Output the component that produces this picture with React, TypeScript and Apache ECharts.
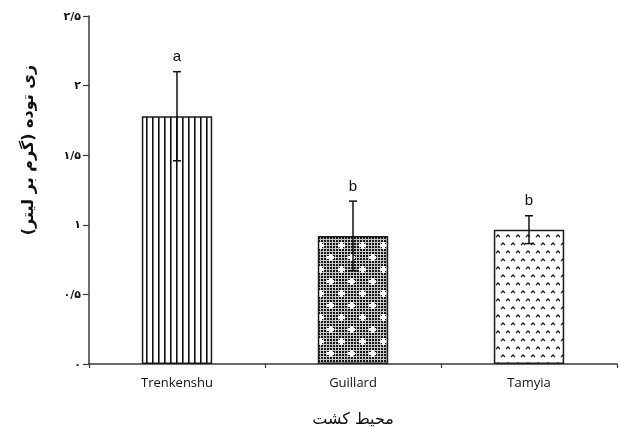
import React, { useEffect, useRef } from "react";
import * as echarts from "echarts";

const categories = ["Trenkenshu", "Guillard", "Tamyia"];
const means = [1.78, 0.92, 0.965];
const errors = [0.32, 0.25, 0.1];
const letters = ["a", "b", "b"];
const yTickLabels = ["۰", "۰/۵", "۱", "۱/۵", "۲", "۲/۵"];
const yAxisTitle = "زی توده (گرم بر لیتر)";
const xAxisTitle = "محیط کشت";

function makeCanvas(w: number, h: number, draw: (c: CanvasRenderingContext2D) => void) {
  const cv = document.createElement("canvas");
  cv.width = w;
  cv.height = h;
  const c = cv.getContext("2d") as CanvasRenderingContext2D;
  draw(c);
  return cv;
}

function verticalLines() {
  return makeCanvas(6, 6, (c) => {
    c.fillStyle = "#fff";
    c.fillRect(0, 0, 6, 6);
    c.fillStyle = "#111";
    c.fillRect(2, 0, 1.6, 6);
  });
}

function checkerCross() {
  return makeCanvas(21, 24, (c) => {
    c.fillStyle = "#c8c8c8";
    c.fillRect(0, 0, 21, 24);
    c.fillStyle = "#151515";
    for (let y = 0; y < 24; y += 3) {
      for (let x = 0; x < 21; x += 3) {
        c.fillRect(x, y, 2, 2);
      }
    }
    c.fillStyle = "#fff";
    const cross = (cx: number, cy: number) => {
      c.fillRect(cx - 3, cy - 1, 7, 3);
      c.fillRect(cx - 1, cy - 3, 3, 7);
    };
    cross(5, 5);
    cross(15, 17);
  });
}

function chevrons() {
  return makeCanvas(10, 16, (c) => {
    c.fillStyle = "#fff";
    c.fillRect(0, 0, 10, 16);
    c.strokeStyle = "#222";
    c.lineWidth = 1.3;
    const ch = (x: number, y: number) => {
      c.beginPath();
      c.moveTo(x - 2, y + 2);
      c.lineTo(x, y);
      c.lineTo(x + 2, y + 2);
      c.stroke();
    };
    ch(3, 3);
    ch(8, 11);
  });
}

export default function App() {
  const ref = useRef<HTMLDivElement>(null);
  useEffect(() => {
    if (!ref.current) return;
    const chart = echarts.init(ref.current, null, { renderer: "svg" });
    const pats = [verticalLines(), checkerCross(), chevrons()];
    const barData = means.map((v, i) => ({
      value: v,
      itemStyle: {
        color: { image: pats[i], repeat: "repeat", imageWidth: pats[i].width, imageHeight: pats[i].height } as any,
      },
    }));
    const errData = means.map((v, i) => [i, v, errors[i]]);
    const axisColor = "#3a3a3a";
    chart.setOption({
      animation: false,
      grid: { left: 89, right: 4, top: 16, bottom: 63, containLabel: false, outerBoundsMode: "none" },
      xAxis: {
        type: "category",
        data: categories,
        axisLine: { lineStyle: { color: axisColor, width: 1.5 } },
        axisTick: { show: true, length: 4, lineStyle: { color: axisColor, width: 1.2 } },
        axisLabel: { color: "#111", fontFamily: "Open Sans", fontSize: 13, margin: 11 },
        name: xAxisTitle,
        nameLocation: "middle",
        nameGap: 46,
        nameTextStyle: { fontFamily: "DejaVu Sans", fontSize: 16, color: "#111" },
      },
      yAxis: {
        type: "value",
        min: 0,
        max: 2.5,
        interval: 0.5,
        splitLine: { show: false },
        axisLine: { show: true, lineStyle: { color: axisColor, width: 1.5 } },
        axisTick: { show: true, length: 6, lineStyle: { color: axisColor, width: 1.2 } },
        axisLabel: {
          color: "#111",
          fontFamily: "DejaVu Sans",
          fontWeight: "bold",
          fontSize: 11,
          margin: 8,
          formatter: (v: number) => yTickLabels[Math.round(v / 0.5)],
        },
      },
      graphic: [
        {
          type: "text",
          x: 27,
          y: 150,
          rotation: Math.PI / 2,
          style: {
            text: yAxisTitle,
            fontFamily: "DejaVu Sans",
            fontSize: 16,
            fontWeight: "bold",
            fill: "#111",
            align: "center",
            verticalAlign: "middle",
          },
        },
      ],
      series: [
        {
          type: "bar",
          data: barData,
          barWidth: "40%",
          itemStyle: { borderColor: "#1a1a1a", borderWidth: 1.5 },
          z: 2,
        },
        {
          type: "custom",
          data: errData,
          encode: { x: 0, y: 1 },
          z: 5,
          renderItem: (params: any, api: any) => {
            const x = api.value(0);
            const v = api.value(1);
            const e = api.value(2);
            const top = api.coord([x, v + e]);
            const bot = api.coord([x, v - e]);
            const hw = 4;
            const st = { stroke: "#111", lineWidth: 1.5 };
            return {
              type: "group",
              children: [
                { type: "line", shape: { x1: top[0], y1: top[1], x2: bot[0], y2: bot[1] }, style: st },
                { type: "line", shape: { x1: top[0] - hw, y1: top[1], x2: top[0] + hw, y2: top[1] }, style: st },
                { type: "line", shape: { x1: bot[0] - hw, y1: bot[1], x2: bot[0] + hw, y2: bot[1] }, style: st },
                {
                  type: "text",
                  x: top[0],
                  y: top[1] - 16,
                  style: {
                    text: letters[params.dataIndex],
                    fontFamily: "Liberation Sans",
                    fontSize: 15,
                    fill: "#111",
                    align: "center",
                    verticalAlign: "middle",
                  },
                },
              ],
            };
          },
        },
      ],
    });
    return () => chart.dispose();
  }, []);
  return <div ref={ref} style={{ position: "fixed", left: 0, top: 0, width: 621, height: 427 }} />;
}
